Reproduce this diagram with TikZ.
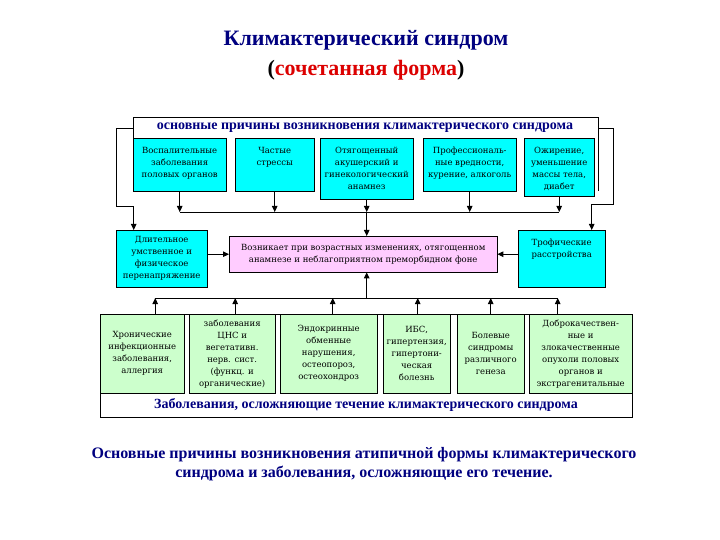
\documentclass[tikz,border=0pt]{standalone}
\usepackage{fontspec}
\setmainfont{Liberation Serif}
\newfontfamily\boxfont{DejaVu Serif}
\usetikzlibrary{arrows.meta}
\definecolor{navy}{RGB}{0,0,128}
\definecolor{causecyan}{RGB}{0,255,255}
\definecolor{pinkbox}{RGB}{255,204,255}
\definecolor{greenbox}{RGB}{204,255,204}
\definecolor{redtext}{RGB}{220,0,0}
% text hung from the top of a box: height, width, lines
\newcommand{\hangtext}[3]{\parbox[c][#1][t]{#2}{\centering\vspace*{9pt}#3}}

\begin{document}
\begin{tikzpicture}[
        x=1pt, y=-1pt,
        every node/.style={inner sep=0pt, align=center, font=\boxfont\fontsize{8.5}{12}\selectfont},
        frame/.style={fill=white, anchor=north west},
        cause/.style={draw, fill=causecyan, anchor=north west},
        effect/.style={draw, fill=greenbox, anchor=north west},
        core/.style={draw, fill=pinkbox, anchor=north west},
        band/.style={font=\bfseries\fontsize{14}{16}\selectfont, text=navy},
        arr/.style={draw, line width=1pt, -{Triangle[length=6pt,width=5.5pt]}},
        bus/.style={draw, line width=0.8pt},
    ]
    \fill[white] (0,0) rectangle (720,540);
    \useasboundingbox (0,0) rectangle (720,540);

    % titles
    \node[font=\bfseries\fontsize{22}{26}\selectfont, text=navy] (title) at (366,40) {Климактерический синдром};
    \node[font=\bfseries\fontsize{22}{26}\selectfont] (subtitle) at (366,70) {(\textcolor{redtext}{сочетанная форма})};

    % upper frame with causes
    \node[frame, minimum width=465, minimum height=74] (causes) at (133,117) {};
    \draw (causes.south west) |- (causes.north east) -- (causes.south east);
    \node[band] (causetitle) at (365,128) {основные причины возникновения климактерического синдрома};
    \node[cause] (c1) at (133,138) {\hangtext{53pt}{93pt}{Воспалительные\\заболевания\\половых органов}};
    \node[cause] (c2) at (235,138) {\hangtext{53pt}{79pt}{Частые\\стрессы}};
    \node[cause] (c3) at (320,138) {\hangtext{61pt}{93pt}{Отягощенный\\акушерский и\\гинекологический\\анамнез}};
    \node[cause] (c4) at (423,138) {\hangtext{53pt}{93pt}{Профессиональ-\\ные вредности,\\курение, алкоголь}};
    \node[cause] (c5) at (524,138) {\hangtext{58pt}{70pt}{Ожирение,\\уменьшение\\массы тела,\\диабет}};

    % middle row
    \node[cause, minimum width=91, minimum height=57] (long) at (116,230) {Длительное\\умственное и\\физическое\\перенапряжение};
    \node[core, minimum width=268, minimum height=36] (pink) at (229,236) {Возникает при возрастных изменениях, отягощенном\\анамнезе и неблагоприятном преморбидном фоне};
    \node[cause] (troph) at (518,230) {\hangtext{57pt}{87pt}{Трофические\\расстройства}};

    % lower frame with complications
    \node[frame, draw, minimum width=532, minimum height=103] (compl) at (100,314) {};
    \node[band] (compltitle) at (366,405) {Заболевания, осложняющие течение климактерического синдрома};
    \node[effect, minimum width=84, minimum height=79] (g1) at (100,314) {Хронические\\инфекционные\\заболевания,\\аллергия};
    \node[effect, minimum width=86, minimum height=79] (g2) at (189,314) {заболевания\\ЦНС и\\вегетативн.\\нерв. сист.\\(функц. и\\органические)};
    \node[effect, minimum width=97, minimum height=79] (g3) at (280,314) {Эндокринные\\обменные\\нарушения,\\остеопороз,\\остеохондроз};
    \node[effect, minimum width=67, minimum height=79] (g4) at (383,314) {ИБС,\\гипертензия,\\гипертони-\\ческая\\болезнь};
    \node[effect, minimum width=67, minimum height=79] (g5) at (457,314) {Болевые\\синдромы\\различного\\генеза};
    \node[effect, minimum width=103, minimum height=79] (g6) at (529,314) {Доброкачествен-\\ные и\\злокачественные\\опухоли половых\\органов и\\экстрагенитальные};

    % caption
    \node[font=\bfseries\fontsize{16}{19}\selectfont, text=navy] (caption) at (364,464) {Основные причины возникновения атипичной формы климактерического\\синдрома и заболевания, осложняющие его течение.};

    % connectors
    \coordinate (topbus) at (0,212);
    \coordinate (lowbus) at (0,298);
    \coordinate (lturn) at (116,207);
    \coordinate (rturn) at (613,205);

    \foreach \n in {c1,c2,c3,c4,c5}
        \draw[arr] (\n.south) -- (\n.south |- topbus);
    \draw[bus] (c1.south |- topbus) -- (c5.south |- topbus);
    \draw[arr] (c3.south |- topbus) -- (c3.south |- pink.north);

    \draw[arr] ([yshift=-12pt]causes.north west) -| (lturn) -| ([xshift=-28pt]long.north);
    \draw[arr] ([yshift=-12pt]causes.north east) -| (rturn) -| ([xshift=30pt]troph.north);
    \draw[arr] (long.east |- pink.west) -- (pink.west);
    \draw[arr] (troph.west |- pink.east) -- (pink.east);

    \foreach \n/\dx in {g1/13,g2/3,g3/4,g4/1,g5/0,g6/-23} {
        \coordinate (\n-foot) at ([xshift=\dx pt]\n.north);
        \draw[arr] (\n-foot) -- (\n-foot |- lowbus);
    }
    \draw[bus] (g1-foot |- lowbus) -- (g6-foot |- lowbus);
    \draw[arr] (c3.south |- lowbus) -- (c3.south |- pink.south);
\end{tikzpicture}
\end{document}
